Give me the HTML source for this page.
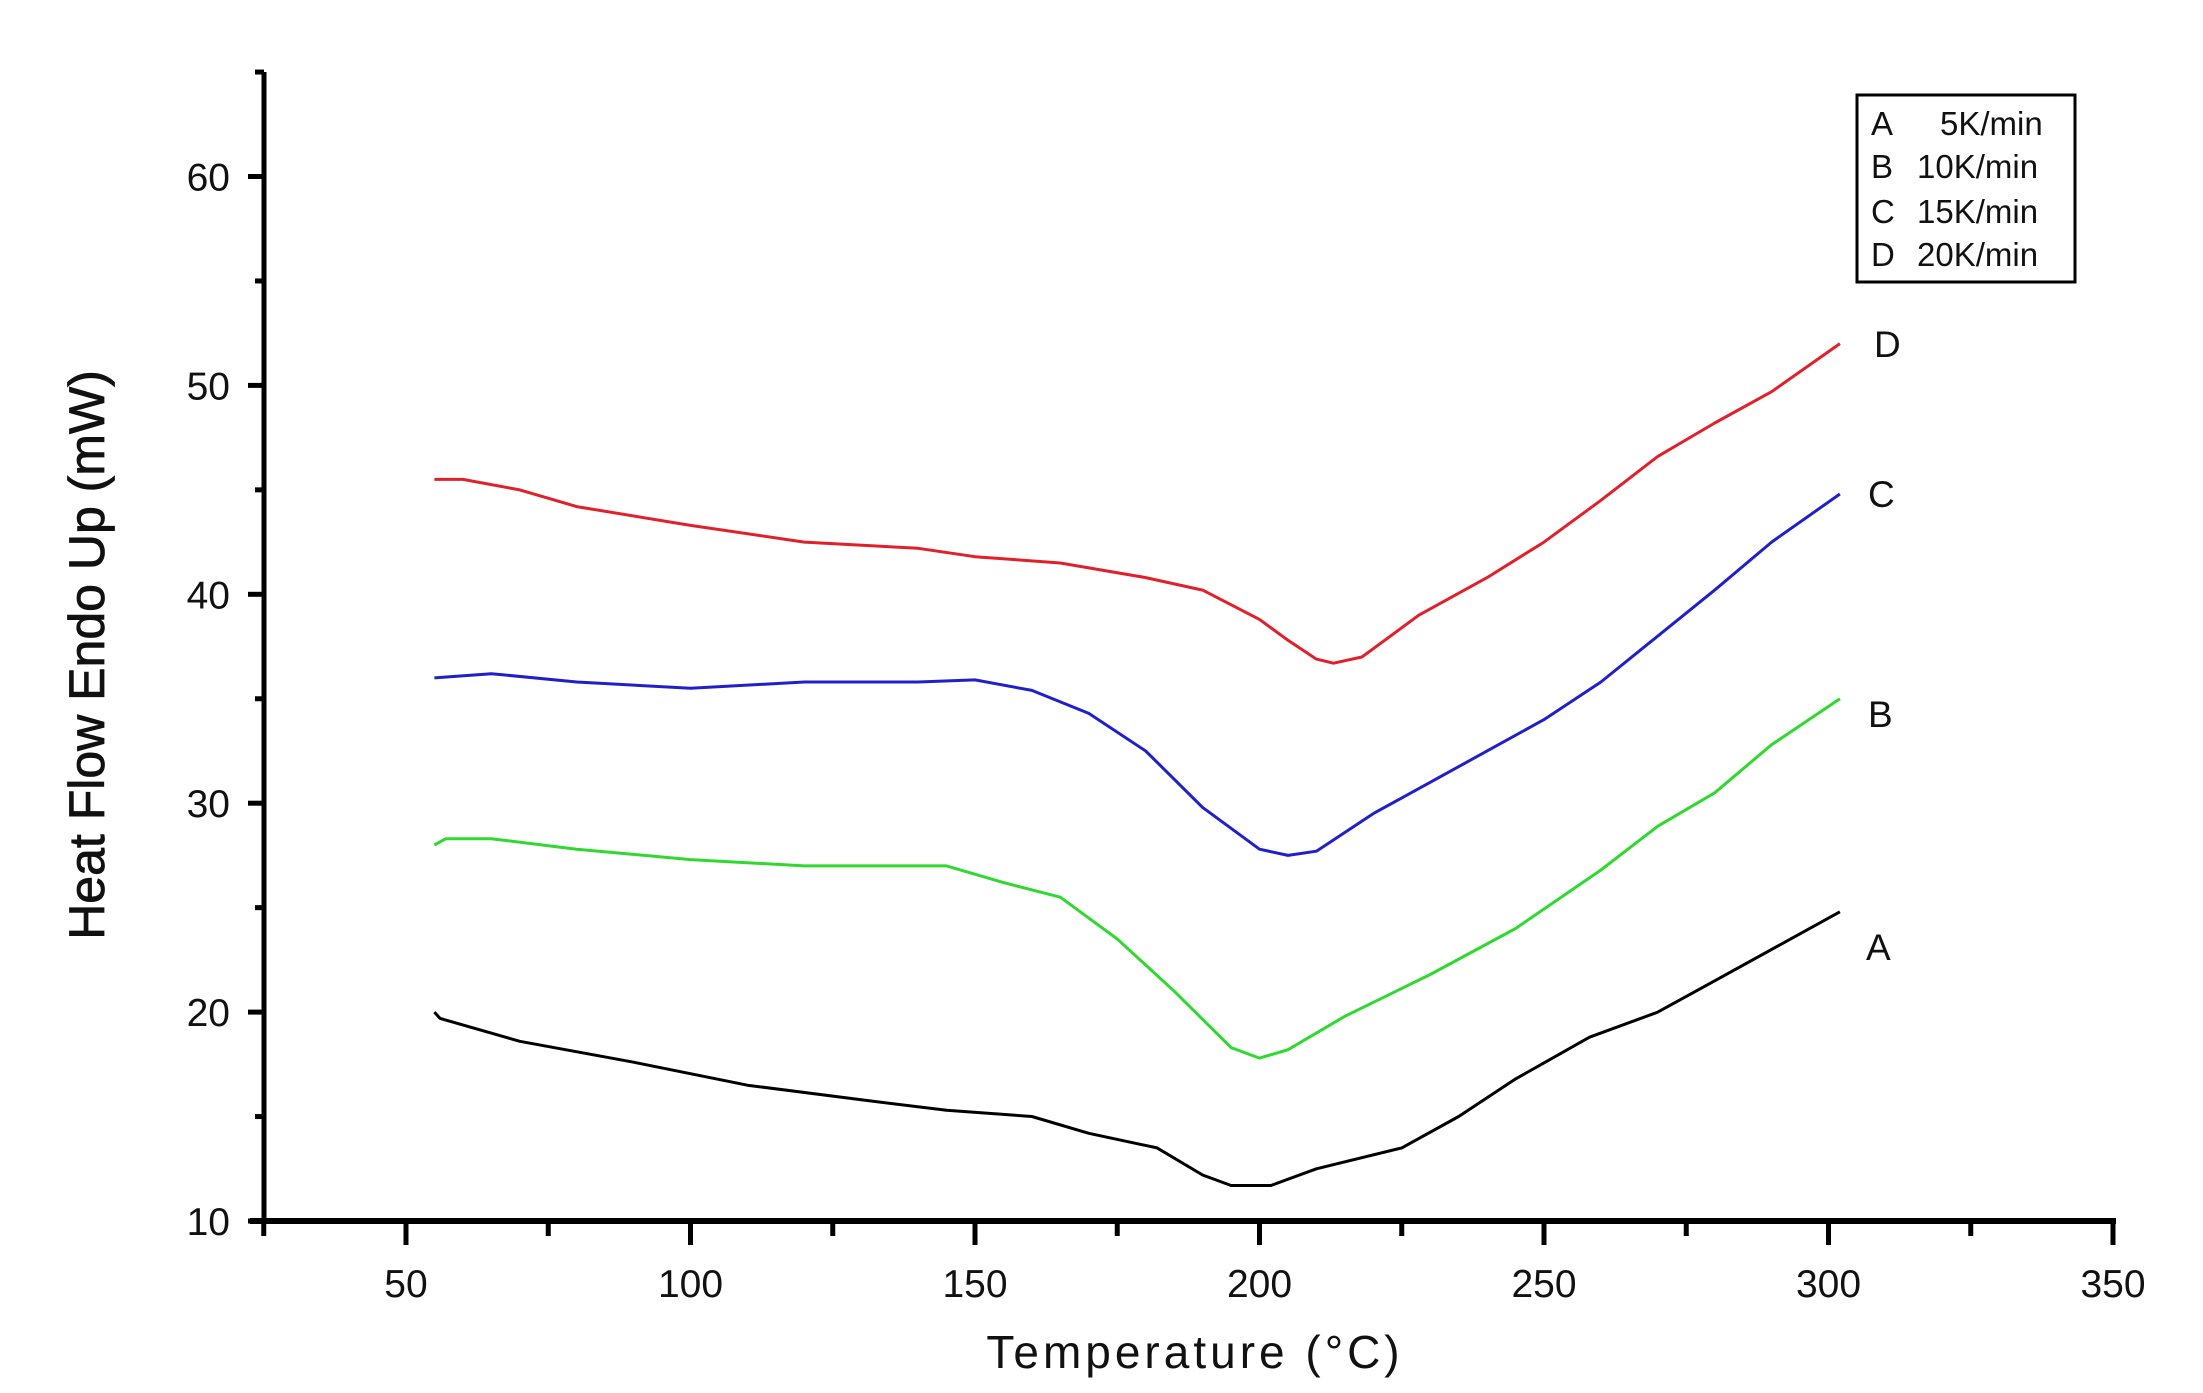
<!DOCTYPE html>
<html><head><meta charset="utf-8"><style>
html,body{margin:0;padding:0;background:#fff}
svg{display:block}
text{font-family:"Liberation Sans",sans-serif;fill:#111}
</style></head><body>
<svg id="s" width="2203" height="1393" viewBox="0 0 2203 1393" xmlns="http://www.w3.org/2000/svg">
<g id="ticks" stroke="#000" stroke-width="5" fill="none"></g>
<line x1="264" y1="72" x2="264" y2="1224" stroke="#000" stroke-width="5"/>
<line x1="250" y1="1221" x2="2116" y2="1221" stroke="#000" stroke-width="6"/>
<g id="labels" font-size="39"></g>
<g id="curves" fill="none" stroke-width="3" stroke-linejoin="round"></g>
<rect x="1857" y="95" width="218" height="187" fill="none" stroke="#000" stroke-width="3"/>
<g font-size="33">
<text x="1871" y="135">A</text><text x="1940" y="135">5K/min</text>
<text x="1871" y="178">B</text><text x="1917" y="178">10K/min</text>
<text x="1871" y="223">C</text><text x="1917" y="223">15K/min</text>
<text x="1871" y="266">D</text><text x="1917" y="266">20K/min</text>
</g>
<g font-size="37">
<text x="1874" y="357">D</text>
<text x="1868" y="507">C</text>
<text x="1868" y="727">B</text>
<text x="1866" y="960">A</text>
</g>
<text x="1195" y="1368" font-size="46" text-anchor="middle" letter-spacing="4">Temperature (°C)</text>
<text transform="translate(104,655) rotate(-90)" font-size="50" text-anchor="middle" stroke="#111" stroke-width="0.8">Heat Flow Endo Up (mW)</text>
</svg>
<script>
var NS="http://www.w3.org/2000/svg";
function X(t){return 406+(t-50)*5.69}
function Y(v){return 1221-(v-10)*20.89}
var tk=document.getElementById('ticks'),lb=document.getElementById('labels');
function el(p,tag,a,txt){var e=document.createElementNS(NS,tag);for(var k in a)e.setAttribute(k,a[k]);if(txt)e.textContent=txt;p.appendChild(e);}
for(var t=25;t<=350;t+=25){var x=X(t),maj=(t%50==0);el(tk,'line',{x1:x,y1:1221,x2:x,y2:maj?1245:1236});
 if(maj)el(lb,'text',{x:x,y:1297,'text-anchor':'middle'},String(t));}
for(var v=10;v<=65;v+=5){var y=Y(v),maj=(v%10==0);el(tk,'line',{x1:maj?248:255,y1:y,x2:264,y2:y});
 if(maj)el(lb,'text',{x:230,y:y+14,'text-anchor':'end'},String(v));}
var D={
"#e0202a":[[55,45.5],[60,45.5],[70,45],[80,44.2],[100,43.3],[120,42.5],[140,42.2],[150,41.8],[165,41.5],[180,40.8],[190,40.2],[200,38.8],[205,37.8],[210,36.9],[213,36.7],[218,37],[222,37.8],[228,39],[240,40.8],[250,42.5],[260,44.5],[270,46.6],[280,48.2],[290,49.7],[302,52]],
"#2020c8":[[55,36],[65,36.2],[80,35.8],[100,35.5],[120,35.8],[140,35.8],[150,35.9],[160,35.4],[170,34.3],[180,32.5],[190,29.8],[200,27.8],[205,27.5],[210,27.7],[220,29.5],[230,31],[250,34],[260,35.8],[280,40.2],[290,42.5],[302,44.8]],
"#30d830":[[55,28],[57,28.3],[65,28.3],[80,27.8],[100,27.3],[120,27],[145,27],[155,26.2],[165,25.5],[175,23.5],[185,21],[195,18.3],[200,17.8],[205,18.2],[215,19.8],[230,21.8],[245,24],[260,26.8],[270,28.9],[280,30.5],[290,32.8],[302,35]],
"#000000":[[55,20],[56,19.7],[70,18.6],[90,17.6],[110,16.5],[130,15.8],[145,15.3],[160,15],[170,14.2],[182,13.5],[190,12.2],[195,11.7],[202,11.7],[210,12.5],[225,13.5],[235,15],[245,16.8],[258,18.8],[270,20],[280,21.5],[302,24.8]]};
var cg=document.getElementById('curves');
for(var c in D){var p=D[c].map(function(q){return X(q[0]).toFixed(1)+','+Y(q[1]).toFixed(1)}).join(' ');
 el(cg,'polyline',{points:p,stroke:c});}
</script>
</body></html>
